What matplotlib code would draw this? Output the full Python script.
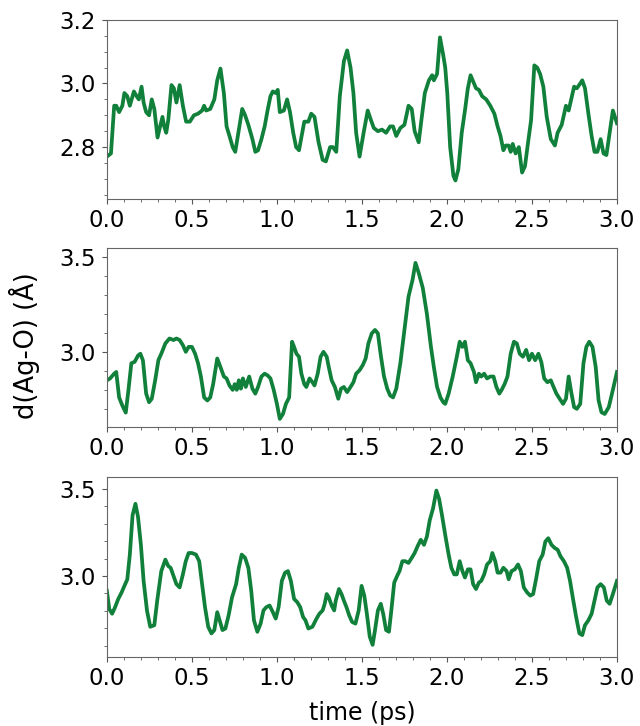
import matplotlib
matplotlib.use("Agg")
import matplotlib.pyplot as plt
from matplotlib.ticker import MultipleLocator

# panel 1
t1 = [0.000, 0.024, 0.043, 0.055, 0.072, 0.091, 0.103, 0.120, 0.135, 0.159, 0.175, 0.188, 0.204, 0.216,
      0.231, 0.248, 0.264, 0.279, 0.298, 0.313, 0.327, 0.337, 0.349, 0.361, 0.380, 0.394, 0.409, 0.428,
      0.447, 0.466, 0.488, 0.512, 0.536, 0.560, 0.572, 0.584, 0.608, 0.632, 0.649, 0.668, 0.688, 0.704,
      0.721, 0.740, 0.755, 0.776, 0.796, 0.813, 0.832, 0.856, 0.873, 0.889, 0.909, 0.928, 0.945, 0.962,
      0.976, 0.993, 1.005, 1.017, 1.041, 1.060, 1.077, 1.096, 1.113, 1.130, 1.149, 1.161, 1.185, 1.202,
      1.221, 1.245, 1.269, 1.288, 1.313, 1.329, 1.349, 1.370, 1.394, 1.413, 1.433, 1.450, 1.466, 1.486,
      1.510, 1.534, 1.553, 1.570, 1.594, 1.618, 1.642, 1.666, 1.683, 1.702, 1.726, 1.750, 1.774, 1.793,
      1.810, 1.834, 1.851, 1.870, 1.894, 1.913, 1.923, 1.942, 1.959, 1.978, 1.990, 2.002, 2.019, 2.038,
      2.050, 2.067, 2.087, 2.106, 2.123, 2.139, 2.159, 2.171, 2.188, 2.207, 2.231, 2.255, 2.279, 2.298,
      2.315, 2.332, 2.346, 2.363, 2.375, 2.387, 2.404, 2.423, 2.442, 2.459, 2.476, 2.495, 2.514, 2.531,
      2.548, 2.567, 2.587, 2.611, 2.635, 2.651, 2.675, 2.700, 2.716, 2.731, 2.748, 2.764, 2.784, 2.796,
      2.812, 2.832, 2.851, 2.868, 2.885, 2.904, 2.921, 2.938, 2.957, 2.976, 3.000]
d1 = [2.77, 2.78, 2.93, 2.93, 2.91, 2.93, 2.97, 2.96, 2.93, 2.975, 2.96, 2.95, 2.99, 2.94,
      2.91, 2.90, 2.95, 2.92, 2.83, 2.865, 2.895, 2.865, 2.845, 2.885, 2.995, 2.985, 2.94, 2.995,
      2.93, 2.88, 2.88, 2.90, 2.905, 2.915, 2.93, 2.915, 2.92, 2.95, 3.01, 3.047, 2.97, 2.865,
      2.835, 2.80, 2.785, 2.855, 2.92, 2.90, 2.87, 2.825, 2.785, 2.79, 2.825, 2.865, 2.915, 2.96,
      2.975, 2.97, 2.98, 2.91, 2.915, 2.95, 2.91, 2.845, 2.80, 2.79, 2.845, 2.88, 2.88, 2.905,
      2.895, 2.815, 2.76, 2.755, 2.80, 2.80, 2.785, 2.96, 3.07, 3.104, 3.05, 2.97, 2.845, 2.77,
      2.845, 2.915, 2.885, 2.86, 2.85, 2.855, 2.845, 2.865, 2.865, 2.835, 2.86, 2.87, 2.93, 2.92,
      2.85, 2.815, 2.89, 2.97, 3.01, 3.026, 3.01, 3.03, 3.145, 3.09, 3.05, 2.97, 2.80, 2.71,
      2.695, 2.73, 2.845, 2.915, 2.985, 3.026, 3.00, 2.985, 2.98, 2.96, 2.95, 2.93, 2.905, 2.865,
      2.835, 2.79, 2.805, 2.805, 2.785, 2.81, 2.78, 2.80, 2.72, 2.74, 2.81, 2.885, 3.057, 3.05,
      3.03, 2.99, 2.895, 2.825, 2.805, 2.845, 2.87, 2.93, 2.915, 2.95, 2.99, 2.985, 3.00, 3.01,
      2.985, 2.905, 2.835, 2.785, 2.785, 2.825, 2.78, 2.775, 2.845, 2.915, 2.875]

# panel 2
t2 = [0.000, 0.019, 0.043, 0.055, 0.072, 0.091, 0.111, 0.127, 0.144, 0.163, 0.183, 0.197, 0.212, 0.231,
      0.248, 0.264, 0.284, 0.303, 0.320, 0.344, 0.368, 0.392, 0.409, 0.428, 0.447, 0.464, 0.481, 0.500,
      0.519, 0.536, 0.553, 0.572, 0.591, 0.608, 0.625, 0.649, 0.668, 0.688, 0.704, 0.721, 0.740, 0.752,
      0.764, 0.776, 0.788, 0.800, 0.817, 0.837, 0.856, 0.873, 0.889, 0.909, 0.928, 0.945, 0.962, 0.981,
      1.000, 1.017, 1.036, 1.053, 1.072, 1.089, 1.101, 1.115, 1.130, 1.144, 1.161, 1.173, 1.192, 1.209,
      1.221, 1.240, 1.257, 1.274, 1.293, 1.305, 1.322, 1.341, 1.361, 1.377, 1.394, 1.413, 1.433, 1.450,
      1.466, 1.486, 1.505, 1.522, 1.538, 1.558, 1.577, 1.594, 1.611, 1.630, 1.649, 1.666, 1.683, 1.702,
      1.726, 1.750, 1.774, 1.798, 1.815, 1.834, 1.858, 1.882, 1.906, 1.923, 1.942, 1.962, 1.978, 1.990,
      2.010, 2.034, 2.058, 2.075, 2.091, 2.106, 2.123, 2.139, 2.159, 2.171, 2.188, 2.202, 2.219, 2.236,
      2.255, 2.274, 2.291, 2.308, 2.322, 2.339, 2.356, 2.375, 2.394, 2.411, 2.428, 2.447, 2.466, 2.483,
      2.500, 2.519, 2.538, 2.555, 2.572, 2.591, 2.611, 2.627, 2.644, 2.663, 2.683, 2.700, 2.716, 2.731,
      2.748, 2.764, 2.784, 2.803, 2.820, 2.837, 2.856, 2.875, 2.892, 2.909, 2.928, 2.952, 2.976, 3.000]
d2 = [2.85, 2.86, 2.885, 2.894, 2.76, 2.717, 2.68, 2.80, 2.94, 2.947, 2.98, 2.99, 2.955, 2.78,
      2.735, 2.753, 2.85, 2.956, 2.99, 3.044, 3.07, 3.062, 3.07, 3.062, 3.035, 3.00, 3.026, 3.026,
      2.99, 2.94, 2.87, 2.76, 2.744, 2.76, 2.83, 2.965, 2.92, 2.87, 2.86, 2.823, 2.80, 2.83,
      2.80, 2.85, 2.806, 2.86, 2.815, 2.87, 2.806, 2.78, 2.815, 2.87, 2.885, 2.876, 2.86, 2.80,
      2.726, 2.647, 2.674, 2.726, 2.76, 3.053, 3.026, 2.99, 2.974, 2.885, 2.83, 2.815, 2.86, 2.84,
      2.823, 2.885, 2.974, 3.00, 2.974, 2.92, 2.85, 2.815, 2.753, 2.806, 2.815, 2.788, 2.815, 2.84,
      2.885, 2.903, 2.93, 2.965, 3.044, 3.097, 3.115, 3.097, 2.982, 2.87, 2.806, 2.77, 2.76, 2.806,
      2.94, 3.115, 3.29, 3.38, 3.468, 3.415, 3.336, 3.20, 3.026, 2.92, 2.815, 2.76, 2.735, 2.726,
      2.78, 2.87, 2.974, 3.053, 3.026, 3.053, 2.956, 2.94, 2.894, 2.84, 2.885, 2.87, 2.885, 2.86,
      2.87, 2.87, 2.815, 2.78, 2.80, 2.83, 2.87, 2.99, 3.053, 3.044, 2.99, 2.974, 3.01, 2.956,
      2.99, 2.956, 2.99, 2.947, 2.86, 2.84, 2.85, 2.815, 2.78, 2.753, 2.726, 2.753, 2.87, 2.788,
      2.709, 2.70, 2.726, 2.94, 3.026, 3.053, 3.026, 2.92, 2.744, 2.682, 2.673, 2.709, 2.80, 2.894]

# panel 3
t3 = [0.000, 0.014, 0.031, 0.048, 0.067, 0.087, 0.103, 0.120, 0.135, 0.151, 0.168, 0.183, 0.200, 0.216,
      0.236, 0.255, 0.279, 0.296, 0.320, 0.344, 0.361, 0.375, 0.392, 0.409, 0.428, 0.447, 0.464, 0.481,
      0.500, 0.524, 0.543, 0.560, 0.577, 0.596, 0.615, 0.632, 0.649, 0.663, 0.680, 0.697, 0.716, 0.736,
      0.760, 0.776, 0.793, 0.813, 0.832, 0.849, 0.865, 0.885, 0.904, 0.921, 0.938, 0.957, 0.976, 0.993,
      1.010, 1.029, 1.048, 1.065, 1.082, 1.101, 1.120, 1.137, 1.154, 1.168, 1.185, 1.209, 1.233, 1.250,
      1.269, 1.281, 1.293, 1.305, 1.322, 1.337, 1.346, 1.365, 1.380, 1.394, 1.409, 1.425, 1.442, 1.462,
      1.481, 1.498, 1.514, 1.529, 1.546, 1.563, 1.577, 1.594, 1.611, 1.625, 1.642, 1.659, 1.673, 1.690,
      1.707, 1.721, 1.738, 1.755, 1.774, 1.793, 1.810, 1.827, 1.846, 1.865, 1.882, 1.899, 1.918, 1.938,
      1.954, 1.971, 1.990, 2.010, 2.026, 2.043, 2.058, 2.075, 2.091, 2.106, 2.123, 2.139, 2.154, 2.171,
      2.188, 2.202, 2.219, 2.236, 2.255, 2.267, 2.284, 2.298, 2.315, 2.332, 2.351, 2.363, 2.380, 2.399,
      2.418, 2.435, 2.452, 2.471, 2.490, 2.507, 2.524, 2.543, 2.563, 2.579, 2.596, 2.615, 2.635, 2.651,
      2.668, 2.688, 2.707, 2.724, 2.740, 2.760, 2.779, 2.796, 2.812, 2.832, 2.851, 2.868, 2.885, 2.904,
      2.923, 2.940, 2.957, 2.976, 3.000]
d3 = [2.915, 2.81, 2.783, 2.82, 2.868, 2.906, 2.943, 2.98, 3.123, 3.349, 3.415, 3.34, 3.18, 2.972,
      2.80, 2.708, 2.717, 2.858, 3.028, 3.094, 3.057, 3.047, 3.00, 2.953, 2.934, 3.009, 3.085, 3.132,
      3.132, 3.123, 3.085, 2.953, 2.821, 2.708, 2.67, 2.689, 2.792, 2.745, 2.689, 2.698, 2.774, 2.877,
      2.953, 3.047, 3.123, 3.104, 3.047, 2.915, 2.745, 2.679, 2.726, 2.802, 2.821, 2.83, 2.792, 2.755,
      2.821, 2.972, 3.019, 3.028, 2.972, 2.868, 2.849, 2.821, 2.764, 2.745, 2.698, 2.708, 2.755, 2.783,
      2.802, 2.84, 2.896, 2.877, 2.83, 2.802, 2.858, 2.925, 2.896, 2.858, 2.821, 2.774, 2.736, 2.726,
      2.802, 2.943, 2.887, 2.783, 2.651, 2.604, 2.689, 2.802, 2.84, 2.783, 2.689, 2.679, 2.802, 2.962,
      3.00, 3.028, 3.085, 3.085, 3.075, 3.104, 3.132, 3.17, 3.208, 3.179, 3.226, 3.321, 3.387, 3.491,
      3.443, 3.349, 3.236, 3.123, 3.047, 3.009, 3.009, 3.085, 3.028, 2.991, 3.038, 3.038, 2.953, 2.925,
      2.962, 2.972, 3.009, 3.066, 3.085, 3.132, 3.085, 3.019, 3.019, 3.047, 3.028, 2.981, 3.028, 3.038,
      3.066, 3.028, 2.934, 2.906, 2.887, 2.896, 2.981, 3.085, 3.123, 3.198, 3.217, 3.179, 3.16, 3.151,
      3.113, 3.085, 3.047, 2.972, 2.877, 2.764, 2.67, 2.66, 2.717, 2.745, 2.783, 2.858, 2.934, 2.953,
      2.934, 2.858, 2.84, 2.896, 2.972]

line_color = "#11803a"
ylims = [(2.637, 3.2), (2.605, 3.547), (2.534, 3.569)]
ymajor = [0.2, 0.5, 0.5]
yminor = [0.05, 0.1, 0.1]
bottoms = [0.726, 0.412, 0.095]
heights = [0.2466, 0.2466, 0.248]

fig = plt.figure(figsize=(6.4, 7.26), dpi=100)

series = [(t1, d1), (t2, d2), (t3, d3)]
for i, (t, d) in enumerate(series):
    ax = fig.add_axes([0.167, bottoms[i], 0.797, heights[i]])
    ax.plot(t, d, color=line_color, lw=2.7)
    ax.set_xlim(0, 3.0)
    ax.set_ylim(*ylims[i])
    ax.xaxis.set_major_locator(MultipleLocator(0.5))
    ax.xaxis.set_minor_locator(MultipleLocator(0.1))
    ax.yaxis.set_major_locator(MultipleLocator(ymajor[i]))
    ax.yaxis.set_minor_locator(MultipleLocator(yminor[i]))
    ax.tick_params(which="both", color="#555555", labelsize=16.5)
    ax.tick_params(which="major", length=3.5)
    ax.tick_params(which="minor", length=2)
    ax.tick_params(axis="y", which="major", pad=4.5)
    for sp in ax.spines.values():
        sp.set_color("#666666")

fig.text(24 / 640, 1 - 346 / 726, "d(Ag-O) (Å)", rotation=90, fontsize=18.5,
         ha="center", va="center")
fig.text(362 / 640, 1 - 713 / 726, "time (ps)", fontsize=17, ha="center", va="center")

fig.savefig("out.png", dpi=100)
